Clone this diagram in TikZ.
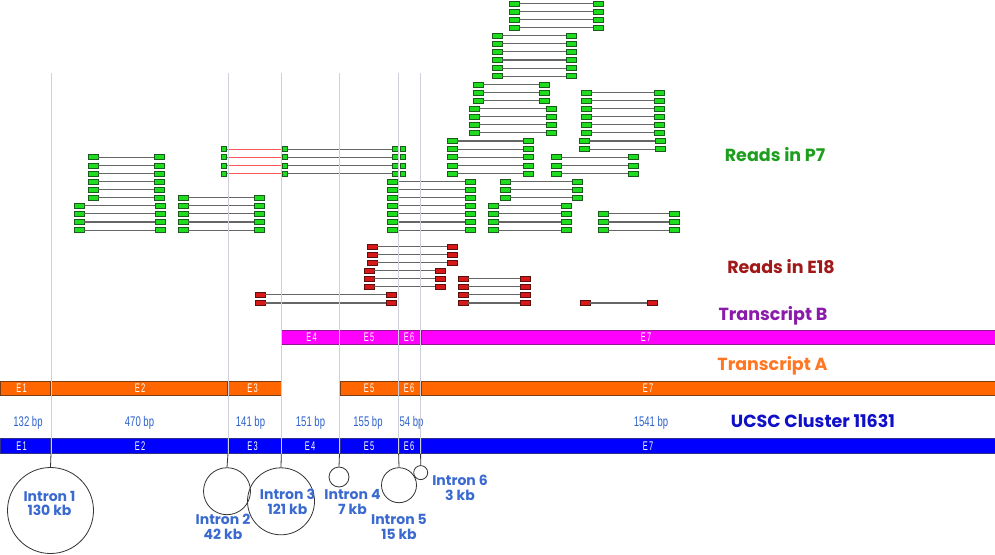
\documentclass[tikz,border=0pt]{standalone}
\usepackage{fontspec}
\setmainfont{Liberation Sans}
\newfontfamily\titlefont{Poppins}
\usepackage{graphicx}
\definecolor{gfill}{HTML}{1EDC1E}
\definecolor{gborder}{HTML}{1A5A1A}
\definecolor{rfill}{HTML}{D81818}
\definecolor{rborder}{HTML}{5A1010}
\definecolor{lgrey}{HTML}{666666}
\definecolor{pinkline}{HTML}{FF5A5A}
\definecolor{guidegrey}{HTML}{CDD0D8}
\definecolor{magfill}{HTML}{FF00FF}
\definecolor{magborder}{HTML}{8E1A8E}
\definecolor{orfill}{HTML}{FF6600}
\definecolor{orborder}{HTML}{7A3C14}
\definecolor{blfill}{HTML}{0000FF}
\definecolor{blborder}{HTML}{30308A}
\definecolor{bptext}{HTML}{2E62CC}
\definecolor{introntext}{HTML}{3A6AD0}
\definecolor{tP}{HTML}{1E9E1E}
\definecolor{tE}{HTML}{A01818}
\definecolor{tB}{HTML}{8A1AAA}
\definecolor{tA}{HTML}{FF7722}
\definecolor{tU}{HTML}{1010C8}
\newcounter{rc}
\newcommand\readgroup[5]{%
  \foreach \k in {#4,...,#5}{%
    \stepcounter{rc}%
    \pgfmathsetmacro\yy{3.3+8.1*\k}%
    \node[#1] (a\arabic{rc}) at (#2+5,\yy) {};
    \node[#1] (b\arabic{rc}) at (#3+5,\yy) {};
    \draw[rline] (a\arabic{rc}) -- (b\arabic{rc});
  }}
\newcommand\exlab[1]{\scalebox{0.6}[1]{\fontsize{12.5}{12.5}\selectfont #1}}
\newcommand\bplab[1]{\scalebox{0.68}[1]{\fontsize{14}{14}\selectfont #1}}
\begin{document}
\begin{tikzpicture}[x=1pt,y=-1pt,
  gbox/.style={rectangle,draw=gborder,fill=gfill,line width=0.6pt,minimum width=10pt,minimum height=5pt,inner sep=0pt},
  sbox/.style={gbox,minimum width=5.5pt},
  rbox/.style={gbox,draw=rborder,fill=rfill},
  rline/.style={draw=lgrey,line width=1.1pt},
  pline/.style={draw=pinkline,line width=1.1pt},
  guide/.style={draw=guidegrey,line width=0.7pt},
  stem/.style={draw=black!80,line width=0.8pt},
  intron/.style={circle,draw=black!80,line width=0.8pt,inner sep=0pt},
  magseg/.style={fill=magfill,draw=magborder,line width=0.9pt},
  orseg/.style={fill=orfill,draw=orborder,line width=0.9pt},
  blseg/.style={fill=blfill,draw=blborder,line width=0.7pt},
  exl/.style={text=white,inner sep=0pt},
  bpl/.style={text=bptext,inner sep=0pt},
  ilab/.style={text=introntext,font=\titlefont\bfseries\fontsize{14}{14.5}\selectfont,align=center,inner sep=0pt},
  ttl/.style={font=\titlefont\bfseries\fontsize{17.5}{17.5}\selectfont,inner sep=0pt}]
\useasboundingbox (0,0) rectangle (995,554);
\fill[white] (0,0) rectangle (995,554);

% ---- green reads (P7)
\readgroup{gbox}{509}{593}{0}{3}
\readgroup{gbox}{492}{566}{4}{9}
\readgroup{gbox}{473}{539}{10}{12}
\readgroup{gbox}{469}{546}{13}{16}
\readgroup{gbox}{447}{523}{17}{21}
\readgroup{gbox}{581}{654}{11}{16}
\readgroup{gbox}{579}{655}{17}{18}
\readgroup{gbox}{551}{628}{19}{21}
\readgroup{gbox}{387}{465}{22}{28}
\readgroup{gbox}{500}{572}{22}{24}
\readgroup{gbox}{488}{561}{25}{28}
\readgroup{gbox}{598}{669}{26}{28}
\readgroup{gbox}{88}{154}{19}{24}
\readgroup{gbox}{74}{155}{25}{28}
\readgroup{gbox}{178}{254}{24}{28}
% split reads with small boxes
\foreach \k in {18,...,21}{
  \pgfmathsetmacro\yy{3.3+8.1*\k}
  \node[sbox] (s1-\k) at (223.7,\yy) {};
  \node[sbox] (s2-\k) at (285,\yy) {};
  \node[sbox] (s3-\k) at (395.5,\yy) {};
  \node[sbox] (s4-\k) at (402.8,\yy) {};
  \draw[pline] (s1-\k) -- (s2-\k);
  \draw[rline] (s2-\k) -- (s3-\k);
}
% ---- red reads (E18)
\readgroup{rbox}{367}{447}{30}{32}
\readgroup{rbox}{364}{435}{33}{35}
\readgroup{rbox}{458}{520}{34}{37}
\readgroup{rbox}{255}{386}{36}{37}
\readgroup{rbox}{580}{647}{37}{37}

% ---- Transcript B
\draw[magseg] (281.7,330) rectangle (339,344);
\draw[magseg] (339.6,330) rectangle (398.3,344);
\draw[magseg] (398.9,330) rectangle (420.3,344);
\draw[magseg] (421,330) rectangle (995,344);
\node[exl] (bE4) at (311.5,337) {\exlab{E\,4}};
\node[exl] (bE5) at (369,337) {\exlab{E\,5}};
\node[exl] (bE6) at (409,337) {\exlab{E\,6}};
\node[exl] (bE7) at (646,337) {\exlab{E\,7}};

% ---- Transcript A
\draw[orseg] (0,381) rectangle (50.5,395);
\draw[orseg] (51.2,381) rectangle (227.5,395);
\draw[orseg] (228.2,381) rectangle (281,395);
\draw[orseg] (340,381) rectangle (398.3,395);
\draw[orseg] (398.9,381) rectangle (420.3,395);
\draw[orseg] (421,381) rectangle (995,395);
\node[exl] (aE1) at (21.5,388) {\exlab{E\,1}};
\node[exl] (aE2) at (140,388) {\exlab{E\,2}};
\node[exl] (aE3) at (252.5,388) {\exlab{E\,3}};
\node[exl] (aE5) at (369,388) {\exlab{E\,5}};
\node[exl] (aE6) at (409,388) {\exlab{E\,6}};
\node[exl] (aE7) at (648,388) {\exlab{E\,7}};

% ---- UCSC cluster
\draw[blseg] (0,438.5) rectangle (50.5,453);
\draw[blseg] (51.2,438.5) rectangle (227.5,453);
\draw[blseg] (228.2,438.5) rectangle (281,453);
\draw[blseg] (281.6,438.5) rectangle (339.3,453);
\draw[blseg] (339.9,438.5) rectangle (398.3,453);
\draw[blseg] (398.9,438.5) rectangle (420.3,453);
\draw[blseg] (421,438.5) rectangle (995,453);
\node[exl] (uE1) at (21.5,445.8) {\exlab{E\,1}};
\node[exl] (uE2) at (140,445.8) {\exlab{E\,2}};
\node[exl] (uE3) at (252.5,445.8) {\exlab{E\,3}};
\node[exl] (uE4) at (310,445.8) {\exlab{E\,4}};
\node[exl] (uE5) at (369,445.8) {\exlab{E\,5}};
\node[exl] (uE6) at (409,445.8) {\exlab{E\,6}};
\node[exl] (uE7) at (648,445.8) {\exlab{E\,7}};

% bp labels
\node[bpl] (bp1) at (28,423) {\bplab{132 bp}};
\node[bpl] (bp2) at (139.5,423) {\bplab{470 bp}};
\node[bpl] (bp3) at (250.5,423) {\bplab{141 bp}};
\node[bpl] (bp4) at (310.5,423) {\bplab{151 bp}};
\node[bpl] (bp5) at (368,423) {\bplab{155 bp}};
\node[bpl] (bp6) at (411.5,423) {\bplab{54 bp}};
\node[bpl] (bp7) at (651,423) {\bplab{1541 bp}};

% ---- guide lines
\foreach \n/\x in {1/51,2/228,3/281.3,4/339.5,5/398.6,6/420.6}{
  \coordinate (gt\n) at (\x,73);
  \coordinate (gb\n) at (\x,453.5);
  \draw[guide] (gt\n) -- (gb\n);
}

% ---- introns
\node[intron,minimum size=86pt] (i1) at (50.5,510.5) {};
\node[intron,minimum size=47pt] (i2) at (227,491.2) {};
\node[intron,minimum size=67pt] (i3) at (281,501.3) {};
\node[intron,minimum size=20pt] (i4) at (339,477) {};
\node[intron,minimum size=35pt] (i5) at (399,485.2) {};
\node[intron,minimum size=14pt] (i6) at (420.7,472.6) {};
\foreach \n in {1,...,6}{ \draw[stem] (gb\n) -- (i\n.north); }

\node[ilab] (l1) at (49.5,503.5) {Intron 1\\130 kb};
\node[ilab] (l2) at (223,527) {Intron 2\\42 kb};
\node[ilab] (l3) at (287.5,502) {Intron 3\\121 kb};
\node[ilab] (l4) at (352.5,502) {Intron 4\\7 kb};
\node[ilab] (l5) at (399,527) {Intron 5\\15 kb};
\node[ilab] (l6) at (460,488) {Intron 6\\3 kb};

% ---- titles
\node[ttl,text=tP] (tP7) at (775,155) {Reads in P7};
\node[ttl,text=tE] (tE18) at (781,267) {Reads in E18};
\node[ttl,text=tB] (tTB) at (773,316) {Transcript B};
\node[ttl,text=tA] (tTA) at (772.5,366) {Transcript A};
\node[ttl,text=tU] (tUC) at (813,421) {UCSC Cluster 11631};
\end{tikzpicture}
\end{document}
